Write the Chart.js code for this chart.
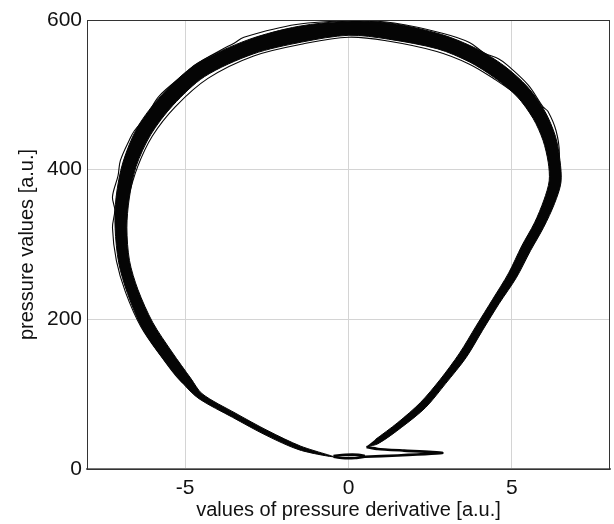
<!DOCTYPE html>
<html>
<head>
<meta charset="utf-8">
<title>pressure loop</title>
<script src="https://cdn.jsdelivr.net/npm/chart.js@4/dist/chart.umd.min.js"></script>
<style>
  html, body { margin: 0; padding: 0; background: #fff; }
  canvas { display: block; }
</style>
</head>
<body>
<canvas id="loopChart" width="614" height="524"></canvas>
<script>
// axis ticks
const xTicks = [-5, 0, 5];
const yTicks = [0, 200, 400, 600];

// outer edge of the overlaid cycles [derivative, pressure], from the foot up the right side, over the top, down the left
const bandOuter = [
  [0.55, 30], [0.90, 33.7], [1.63, 55.9], [2.36, 82.2], [2.97, 114.1], [3.60, 149.0],
  [4.10, 185.2], [4.61, 221.2], [5.14, 256.0], [5.57, 291.9], [5.97, 323.0], [6.30, 354.4],
  [6.50, 383.0], [6.47, 412.1], [6.33, 444.7], [6.01, 477.7], [5.48, 510.4], [4.75, 539.1],
  [3.90, 562.0], [2.85, 580.6], [1.30, 595.6], [-0.01, 598.4], [-1.53, 591.5], [-3.08, 573.4],
  [-4.64, 541.5], [-5.71, 499.9], [-6.45, 457.1], [-6.90, 409.9], [-7.11, 363.2], [-7.14, 321.8],
  [-7.03, 275.7], [-6.76, 234.5], [-6.31, 188.2], [-5.68, 147.7], [-5.04, 113.2], [-4.57, 93.8],
  [-3.55, 69.1], [-2.52, 45.0], [-1.50, 25.5], [-0.46, 16.4]
];

// inner edge, same direction
const bandInner = [
  [0.82, 39.3], [1.51, 62.1], [2.20, 88.8], [2.81, 119.9], [3.40, 155.0], [3.90, 190.8],
  [4.41, 226.8], [4.90, 262.0], [5.30, 298.1], [5.69, 329.0], [5.98, 359.6], [6.14, 385.0],
  [6.11, 409.9], [5.95, 439.3], [5.65, 468.3], [5.16, 497.6], [4.47, 522.9], [3.70, 544.0],
  [2.73, 561.4], [1.22, 574.4], [0.01, 579.6], [-1.43, 570.5], [-2.92, 554.6], [-4.40, 524.5],
  [-5.37, 486.1], [-6.05, 446.9], [-6.50, 404.1], [-6.71, 360.8], [-6.78, 322.2], [-6.70, 278.4],
  [-6.44, 239.5], [-5.99, 195.9], [-5.40, 156.3], [-4.82, 120.8], [-4.47, 100.3], [-3.47, 74.9],
  [-2.46, 51.0], [-1.46, 30.5]
];

// single cycles drifting off the edges of the band
const strayOuter = [
  [-4.52, 97], [-4.62, 100], [-4.72, 108], [-5.1, 116], [-5.72, 150], [-6.35, 190], [-6.82, 236],
  [-7.1, 278], [-7.22, 322], [-7.15, 346], [-7.22, 364], [-7.05, 392], [-6.98, 412], [-6.7, 440],
  [-6.55, 452], [-6.2, 470], [-5.8, 498], [-4.95, 530], [-4.7, 540], [-3.9, 560], [-3.5, 569],
  [-3.2, 577], [-1.6, 594], [0.2, 599], [1.4, 596], [2.9, 582], [3.7, 570], [4.15, 556],
  [4.6, 548], [4.85, 540], [5.5, 513], [5.95, 484], [6.1, 478], [6.35, 452], [6.45, 420], [6.32, 390]
];
const strayInner = [
  [5.83, 473], [5.3, 495], [4.5, 520], [3.7, 541], [2.7, 558], [1.2, 572], [0, 577],
  [-1.4, 568], [-2.9, 552], [-4.3, 522], [-5.3, 484], [-6.0, 445], [-6.45, 404], [-6.75, 360], [-6.92, 320]
];

// foot of the loop: bottom pass, the short spike to the right and back to the rising branch
const footSpike = [
  [-0.46, 16.4], [-0.2, 14.8], [0.2, 14.8], [0.5, 16.3], [1.5, 18.0], [2.87, 21.5],
  [1.7, 24.6], [0.9, 26.8], [0.55, 29.5]
];
const footLoop = [
  [-0.46, 17.4], [-0.1, 19.0], [0.3, 19.0], [0.5, 17.2]
];

const pts = arr => arr.map(([x, y]) => ({ x, y }));

// closed outline of the band: outer edge forward, inner edge back
const bandShape = pts(bandOuter).concat(pts(bandInner).reverse());

const ink = '#050505';
const thin = (data, width) => ({
  data: pts(data),
  showLine: true,
  borderColor: ink,
  borderWidth: width,
  tension: 0.35,
  pointRadius: 0
});

const frame = {
  id: 'frame',
  afterDraw(chart) {
    const { ctx, chartArea: a } = chart;
    ctx.save();
    ctx.strokeStyle = '#333';
    ctx.lineWidth = 1;
    ctx.strokeRect(a.left + 0.5, a.top + 0.5, a.right - a.left - 1, a.bottom - a.top);
    ctx.restore();
  }
};

Chart.defaults.font.family = "'Liberation Sans', Arial, sans-serif";
Chart.defaults.color = '#111';

new Chart(document.getElementById('loopChart'), {
  type: 'scatter',
  data: {
    datasets: [
      {
        data: bandShape,
        showLine: true,
        fill: 'shape',
        backgroundColor: ink,
        borderColor: ink,
        borderWidth: 1,
        tension: 0.3,
        pointRadius: 0
      },
      thin(strayOuter, 1.1),
      thin(strayInner, 1.1),
      Object.assign(thin(footSpike, 2.6), { tension: 0.15 }),
      thin(footLoop, 2.6)
    ]
  },
  options: {
    responsive: false,
    animation: false,
    layout: { padding: { top: 20, right: 4, left: 0, bottom: 0 } },
    plugins: {
      legend: { display: false },
      tooltip: { enabled: false }
    },
    scales: {
      x: {
        type: 'linear',
        min: -8,
        max: 8,
        afterBuildTicks: s => { s.ticks = xTicks.map(v => ({ value: v })); },
        afterFit: s => { s.height = 55; },
        grid: { color: '#d4d4d4', drawTicks: false },
        border: { color: '#777', width: 2 },
        ticks: { font: { size: 21 }, padding: 7, maxRotation: 0 },
        title: {
          display: true,
          text: 'values of pressure derivative [a.u.]',
          font: { size: 20 },
          padding: { top: 0, bottom: 2 }
        }
      },
      y: {
        type: 'linear',
        min: 0,
        max: 600,
        afterBuildTicks: s => { s.ticks = yTicks.map(v => ({ value: v })); },
        afterFit: s => { s.width = 87; },
        grid: { color: '#d4d4d4', drawTicks: false },
        border: { color: '#333', width: 1 },
        ticks: { font: { size: 21 }, padding: 5 },
        title: {
          display: true,
          text: 'pressure values [a.u.]',
          font: { size: 20 },
          padding: { top: 15, bottom: 0 }
        }
      }
    }
  },
  plugins: [frame]
});
</script>
</body>
</html>
